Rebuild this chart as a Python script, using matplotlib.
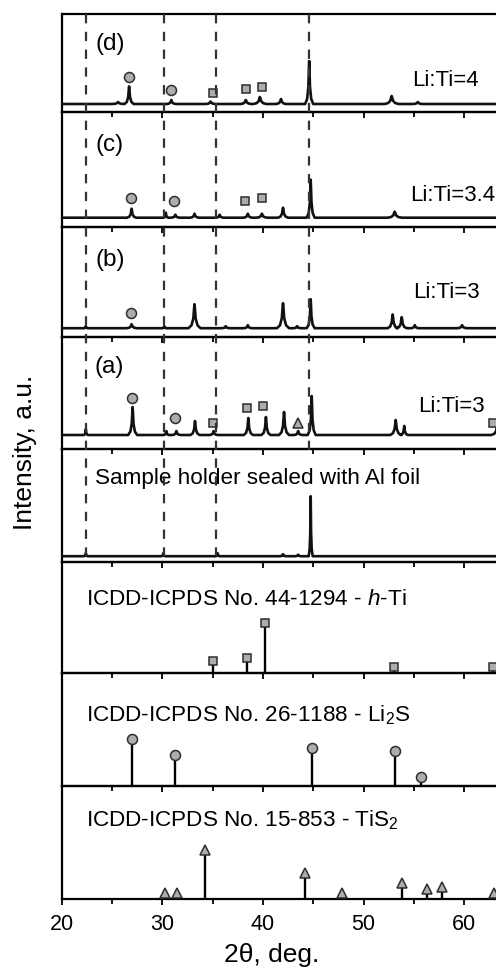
import matplotlib.pyplot as plt
from matplotlib.lines import Line2D
from matplotlib import transforms

plt.rcParams["font.family"] = ["Liberation Sans", "DejaVu Sans"]
plt.rcParams["mathtext.fontset"] = "custom"
plt.rcParams["mathtext.rm"] = "Liberation Sans"
plt.rcParams["mathtext.it"] = "Liberation Sans:italic"

# ---- measured patterns: peak position (2theta), height above baseline, half base width ----
d_base = 8
d_pos = [25.6, 26.7, 30.9, 34.8, 38.3, 39.7, 41.8, 44.6, 52.8, 55.4]
d_hgt = [2, 17.6, 4, 2.5, 4, 7, 5, 43, 8, 2]
d_wid = [0.6, 0.45, 0.45, 0.5, 0.55, 0.65, 0.5, 0.4, 0.7, 0.5]

c_base = 9
c_pos = [26.95, 30.35, 31.3, 33.2, 35.7, 38.5, 39.9, 42.0, 44.75, 53.1]
c_hgt = [9, 5, 3, 4, 3, 4, 4, 10, 38, 6]
c_wid = [0.45, 0.25, 0.45, 0.45, 0.4, 0.45, 0.55, 0.5, 0.4, 0.7]

b_base = 8.5
b_pos = [22.4, 26.95, 30.2, 33.2, 36.3, 38.5, 42.0, 43.4, 44.75, 52.9, 53.8, 55.1, 59.8]
b_hgt = [2, 4, 2, 24, 2, 3, 25, 2, 29, 13.7, 11, 3, 3]
b_wid = [0.2, 0.5, 0.2, 0.6, 0.4, 0.4, 0.6, 0.4, 0.4, 0.5, 0.5, 0.4, 0.5]

a_base = 14
a_pos = [22.4, 27.05, 30.4, 31.4, 33.25, 35.1, 38.55, 40.3, 42.1, 43.5, 44.85, 53.2, 54.05, 63.3]
a_hgt = [6, 28, 4, 4, 14, 4, 17, 18, 23, 4, 39, 15, 9, 10]
a_wid = [0.2, 0.45, 0.25, 0.4, 0.45, 0.4, 0.45, 0.45, 0.5, 0.4, 0.4, 0.55, 0.35, 0.6]

h_base = 5.5
h_pos = [22.4, 30.1, 35.5, 42.0, 43.5, 44.75]
h_hgt = [3, 3, 3, 2, 1.5, 60]
h_wid = [0.2, 0.2, 0.2, 0.3, 0.3, 0.2]

# phase markers on the measured patterns (position, height above baseline)
d_mark_x = [26.7, 30.9, 35.0, 38.3, 39.9]
d_mark_y = [27, 13.6, 11, 14.6, 17]
d_mark_ph = ["Li2S", "Li2S", "Ti", "Ti", "Ti"]

c_mark_x = [26.9, 31.2, 38.2, 39.9]
c_mark_y = [20, 16.7, 16.7, 20]
c_mark_ph = ["Li2S", "Li2S", "Ti", "Ti"]

b_mark_x = [26.9]
b_mark_y = [15.3]
b_mark_ph = ["Li2S"]

a_mark_x = [27.0, 31.3, 35.0, 38.4, 40.0, 43.5, 62.9]
a_mark_y = [37, 17, 12, 27, 29, 12, 11.6]
a_mark_ph = ["Li2S", "Li2S", "Ti", "Ti", "Ti", "TiS2", "Ti"]

# ---- reference stick patterns ----
ti_pos = [35.07, 38.45, 40.2, 53.06, 62.9]
ti_int = [12, 15, 50.7, 6, 6]

li2s_pos = [27.0, 31.26, 44.85, 53.1, 55.7]
li2s_int = [46.7, 30.7, 37.7, 35.3, 9.3]

tis2_pos = [30.3, 31.5, 34.25, 44.2, 47.9, 53.8, 56.35, 57.8, 63.0]
tis2_int = [6.3, 6.3, 49, 26.3, 6.3, 16.3, 9.7, 12.3, 6.3]

dash_x = [22.4, 30.2, 35.3, 44.6]

ratio_labels = ["Li:Ti=4", "Li:Ti=3.4", "Li:Ti=3", "Li:Ti=3"]
panel_tags = ["(d)", "(c)", "(b)", "(a)"]

marker_style = {"Li2S": ("o", 7.2), "Ti": ("s", 6.3), "TiS2": ("^", 7.6)}
mfill = "#adadad"
medge = "#2e2e2e"


def trace(pos, hgt, wid, base):
    x = [20.0]
    y = [base]
    for p, h, w in sorted(zip(pos, hgt, wid)):
        x += [p - w, p - 0.5 * w, p - 0.2 * w, p - 0.06 * w, p,
              p + 0.06 * w, p + 0.2 * w, p + 0.5 * w, p + w]
        y += [base, base + 0.12 * h, base + 0.4 * h, base + 0.85 * h, base + h,
              base + 0.85 * h, base + 0.4 * h, base + 0.12 * h, base]
    x.append(65.0)
    y.append(base)
    return x, y


def put_markers(ax, xs, ys, phases, base=0):
    for x, y, ph in zip(xs, ys, phases):
        m, s = marker_style[ph]
        ax.plot(x, base + y, marker=m, ms=s, mfc=mfill, mec=medge, mew=1.1,
                ls="none", clip_on=False, zorder=4)


# ---- layout ----
W, H = 496, 967
fig = plt.figure(figsize=(W / 100, H / 100), dpi=100)
edges = [14, 112, 226.7, 336.7, 449, 561.7, 673.3, 786, 899]
x0, xw = 61.7, 452.7

axes = []
for i in range(8):
    top, bot = edges[i], edges[i + 1]
    ax = fig.add_axes([x0 / W, 1 - bot / H, xw / W, (bot - top) / H])
    ax.patch.set_visible(False)
    ax.set_xlim(20, 65)
    ax.set_ylim(0, bot - top)
    ax.set_yticks([])
    ax.set_xticks([20, 30, 40, 50, 60])
    ax.set_xticks([25, 35, 45, 55, 65], minor=True)
    ax.tick_params(axis="x", which="both", direction="out", width=1.3,
                   labelbottom=(i == 7), labelsize=15.5, pad=6)
    ax.tick_params(axis="x", which="major", length=4.5)
    ax.tick_params(axis="x", which="minor", length=3.5)
    for s in ax.spines.values():
        s.set_linewidth(1.6)
    axes.append(ax)

# measured patterns
patterns = [(d_pos, d_hgt, d_wid, d_base), (c_pos, c_hgt, c_wid, c_base),
            (b_pos, b_hgt, b_wid, b_base), (a_pos, a_hgt, a_wid, a_base),
            (h_pos, h_hgt, h_wid, h_base)]
for ax, (p, hh, w, b) in zip(axes[:5], patterns):
    x, y = trace(p, hh, w, b)
    ax.plot(x, y, color="#111111", lw=1.9, zorder=3)

put_markers(axes[0], d_mark_x, d_mark_y, d_mark_ph, d_base)
put_markers(axes[1], c_mark_x, c_mark_y, c_mark_ph, c_base)
put_markers(axes[2], b_mark_x, b_mark_y, b_mark_ph, b_base)
put_markers(axes[3], a_mark_x, a_mark_y, a_mark_ph, a_base)

# labels in the measured panels
tag_pos = [(0.074, 0.694), (0.075, 0.71), (0.075, 0.695), (0.073, 0.73)]
ratio_pos = [(0.773, 0.32), (0.77, 0.274), (0.777, 0.406), (0.788, 0.374)]
for ax, tag, tp, lab, rp in zip(axes[:4], panel_tags, tag_pos, ratio_labels, ratio_pos):
    ax.text(tp[0], tp[1], tag, transform=ax.transAxes, fontsize=17.5,
            ha="left", va="center")
    ax.text(rp[0], rp[1], lab, transform=ax.transAxes, fontsize=16,
            ha="left", va="center")
axes[4].text(0.073, 0.734, "Sample holder sealed with Al foil",
             transform=axes[4].transAxes, fontsize=16.2, ha="left", va="center")

# reference sticks
refs = [(axes[5], ti_pos, ti_int, "Ti", "ICDD-ICPDS No. 44-1294 - $\\it{h}$-Ti", 0.657),
        (axes[6], li2s_pos, li2s_int, "Li2S", "ICDD-ICPDS No. 26-1188 - Li$_2$S", 0.63),
        (axes[7], tis2_pos, tis2_int, "TiS2", "ICDD-ICPDS No. 15-853 - TiS$_2$", 0.70)]
for ax, pos, inten, ph, label, ty in refs:
    ax.vlines(pos, 0, inten, color="black", lw=1.7, zorder=3)
    put_markers(ax, pos, inten, [ph] * len(pos))
    ax.text(0.054, ty, label, transform=ax.transAxes, fontsize=16.2,
            ha="left", va="center")

# dashed guide lines running through the stacked panels
blend = transforms.blended_transform_factory(axes[0].transData, fig.transFigure)
dash_bottom = [555.7, 555.7, 555.7, 458]
for x, yb in zip(dash_x, dash_bottom):
    fig.add_artist(Line2D([x, x], [1 - 14 / H, 1 - yb / H], transform=blend,
                          color="#333333", lw=1.6, dashes=(4.2, 3.8), zorder=5))

fig.text(25 / W, 1 - 452 / H, "Intensity, a.u.", rotation=90, fontsize=19,
         ha="center", va="center")
fig.text(272 / W, 1 - 955 / H, "2θ, deg.", fontsize=19, ha="center", va="center")

fig.savefig("out.png", dpi=100)
